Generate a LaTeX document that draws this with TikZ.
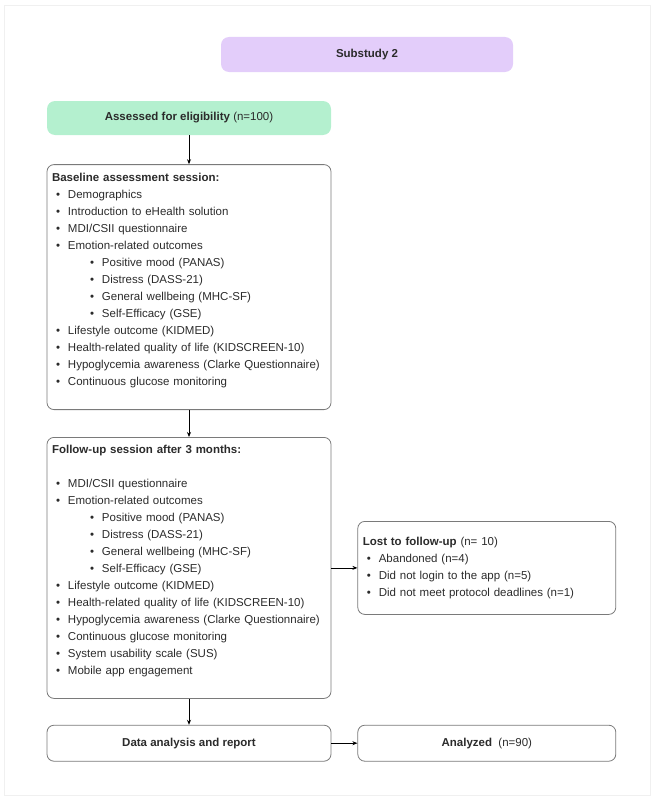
\documentclass[tikz,border=0pt]{standalone}
\usepackage{fontspec}
\setmainfont{Liberation Sans}
\usepackage{tikz}
\usetikzlibrary{arrows.meta,positioning}
\definecolor{lavender}{HTML}{E3CDFA}
\definecolor{mint}{HTML}{B4F0CF}
\definecolor{inkgrey}{HTML}{2B2B2B}
\definecolor{edgegrey}{HTML}{7A7A7A}
\definecolor{framegrey}{HTML}{F0F0F0}
\newcommand{\itm}{\hspace*{4pt}\makebox[12pt][l]{\textbullet}}
\newcommand{\subitm}{\hspace*{38pt}\makebox[12pt][l]{\textbullet}}
\tikzset{
headbox/.style={fill=lavender,rounded corners=8pt,align=center,minimum width=292pt,minimum height=35pt,text=inkgrey,font=\bfseries\fontsize{11.5}{14}\selectfont},
greenbox/.style={fill=mint,rounded corners=8pt,align=center,minimum width=284pt,minimum height=34pt,text=inkgrey,font=\fontsize{11.5}{14}\selectfont},
listbox/.style={draw=edgegrey,line width=.8pt,rounded corners=7pt,align=left,inner xsep=5pt,inner ysep=2pt,text=inkgrey,font=\fontsize{11.5}{17}\selectfont},
block/.style={draw=edgegrey,line width=.8pt,rounded corners=7pt,align=center,minimum height=36pt,text=inkgrey,font=\fontsize{11.5}{14}\selectfont},
arrow/.style={-{Stealth[length=5pt,width=4pt]},line width=.8pt}
}
\begin{document}
\begin{tikzpicture}[x=1pt,y=-1pt,node distance=26pt]
\useasboundingbox (0,0) rectangle (655,800);
\draw[framegrey,line width=.6pt] (4,5) rectangle (650,795);

\node[headbox] (substudy) at (367,54.5) {Substudy 2};
\node[greenbox] (assessed) at (189,118) {\textbf{Assessed for eligibility} (n=100)};

\node[listbox,text width=274pt,minimum height=245pt,below=29pt of assessed] (baseline) {%
\textbf{Baseline assessment session:}\\
\itm Demographics\\
\itm Introduction to eHealth solution\\
\itm MDI/CSII questionnaire\\
\itm Emotion-related outcomes\\
\subitm Positive mood (PANAS)\\
\subitm Distress (DASS-21)\\
\subitm General wellbeing (MHC-SF)\\
\subitm Self-Efficacy (GSE)\\
\itm Lifestyle outcome (KIDMED)\\
\itm Health-related quality of life (KIDSCREEN-10)\\
\itm Hypoglycemia awareness (Clarke Questionnaire)\\
\itm Continuous glucose monitoring\\[-6pt]
\strut};

\node[listbox,text width=274pt,minimum height=261pt,below=27pt of baseline] (followup) {%
\textbf{Follow-up session after 3 months:}\\
\strut\\
\itm MDI/CSII questionnaire\\
\itm Emotion-related outcomes\\
\subitm Positive mood (PANAS)\\
\subitm Distress (DASS-21)\\
\subitm General wellbeing (MHC-SF)\\
\subitm Self-Efficacy (GSE)\\
\itm Lifestyle outcome (KIDMED)\\
\itm Health-related quality of life (KIDSCREEN-10)\\
\itm Hypoglycemia awareness (Clarke Questionnaire)\\
\itm Continuous glucose monitoring\\
\itm System usability scale (SUS)\\
\itm Mobile app engagement\\[-6pt]
\strut};

\node[listbox,text width=248pt,minimum height=93pt,right=26pt of followup] (lost) {%
\textbf{Lost to follow-up} (n= 10)\\
\itm Abandoned (n=4)\\
\itm Did not login to the app (n=5)\\
\itm Did not meet protocol deadlines (n=1)};

\node[block,minimum width=284pt,below=26pt of followup] (analysis) {\textbf{Data analysis and report}};
\node[block,minimum width=258pt,right=26pt of analysis] (analyzed) {\textbf{Analyzed}\ \ (n=90)};

\draw[arrow] (assessed) -- (baseline);
\draw[arrow] (baseline) -- (followup);
\draw[arrow] (followup) -- (lost);
\draw[arrow] (followup) -- (analysis);
\draw[arrow] (analysis) -- (analyzed);
\end{tikzpicture}
\end{document}
